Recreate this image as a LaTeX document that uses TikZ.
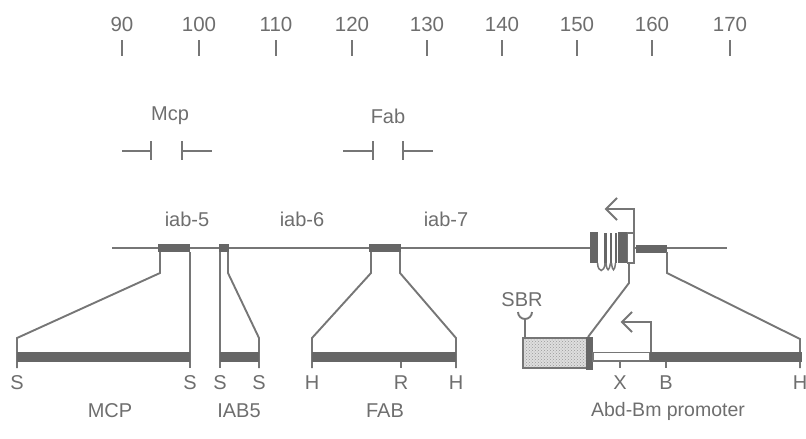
\documentclass[tikz,border=0pt]{standalone}
\usepackage{fontspec}
\setmainfont{Liberation Sans}
\usetikzlibrary{patterns}
\definecolor{ln}{RGB}{118,118,118}
\definecolor{dk}{RGB}{102,102,102}
\definecolor{tx}{RGB}{110,110,110}
\definecolor{stip}{RGB}{222,222,222}
\begin{document}
\begin{tikzpicture}[x=1pt,y=-1pt,line width=1.9pt,color=ln,
  lbl/.style={text=tx,font=\fontsize{20}{20}\selectfont,inner sep=0pt},
  num/.style={text=tx,font=\fontsize{20.5}{20.5}\selectfont,inner sep=0pt},
  bar/.style={fill=dk,draw=none},
  thick line/.style={line width=2.2pt}]
\useasboundingbox (0,0) rectangle (806,439);
% scale
\foreach \v/\x in {90/122,100/199,110/276,120/352,130/427,140/502,150/577,160/652,170/730}{
  \node[num] (n\v) at (\x,24) {\v};
  \draw[line width=1.6pt] (\x,40) -- (\x,56);
}
% brackets
\node[lbl] (mcp) at (170,116) {Mcp};
\draw (122,151) -- (151,151); \draw (151,141) -- (151,160);
\draw (182,141) -- (182,160); \draw (182,151) -- (212,151);
\node[lbl] (fab) at (388,116) {Fab};
\draw (343,151) -- (373,151); \draw (373,141) -- (373,160);
\draw (403,141) -- (403,160); \draw (403,151) -- (433,151);
% region labels
\node[lbl] (i5) at (187,219) {iab-5};
\node[lbl] (i6) at (302,219) {iab-6};
\node[lbl] (i7) at (446,219) {iab-7};
% main line
\draw (112,248) -- (590,248);
\draw (634,248) -- (727,248);
\fill[bar] (158,244) rectangle (190,252);
\fill[bar] (219,244) rectangle (229,252);
\fill[bar] (369,244) rectangle (401,252);
\fill[bar] (636,244.5) rectangle (667,252.5);
% exons
\fill[bar] (590,232) rectangle (598,263);
\fill[bar] (604,233) rectangle (606.5,263);
\fill[bar] (609.5,233) rectangle (612,263);
\fill[bar] (614.5,233) rectangle (617,263);
\fill[bar] (618,232) rectangle (627,263);
\draw[line width=1.5pt,fill=white] (627.5,233) rectangle (634,263);
\draw[line width=1.5pt] (597.5,263) .. controls (598,273) and (604.5,273) .. (605,263)
  (606,263) .. controls (607,272) and (609,272) .. (610.5,263)
  (611.5,263) .. controls (612.5,272) and (614.5,272) .. (615.5,263);
% arrow 1
\draw[line join=miter] (634,236) -- (634,209) -- (606,209);
\draw[line join=miter] (617,198) -- (606,209) -- (617,220);
% MCP
\draw (160,252) -- (160,273) -- (17,338) -- (17,368);
\draw (190,252) -- (190,368);
\fill[bar] (17,352) rectangle (190,362);
% IAB5
\draw (220,252) -- (220,368);
\draw (228,252) -- (228,273) -- (259,338) -- (259,368);
\fill[bar] (220,352) rectangle (259,362);
% FAB
\draw (371,252) -- (371,273) -- (312,338) -- (312,368);
\draw (400,252) -- (400,273) -- (456,338) -- (456,368);
\fill[bar] (312,352) rectangle (456,362);
\draw (401,362) -- (401,368);
% Abd-B construct
\draw (629,263) -- (629,283) -- (588,337);
\draw (667,252) -- (667,273) -- (800,339) -- (800,368);
\fill[stip] (523,338) rectangle (587,368);
\fill[pattern=crosshatch dots,pattern color=gray!80] (523,338) rectangle (587,368);
\draw[thick line] (523,338) rectangle (587,368);
\fill[bar] (586,337) rectangle (593,370);
\draw[line width=1.5pt,fill=white] (593,352.5) rectangle (650,361);
\fill[bar] (650,352) rectangle (802,362);
\draw (620,361) -- (620,368);
\draw (666,362) -- (666,368);
% arrow 2
\draw[line join=miter] (651,352) -- (651,322) -- (622,322);
\draw[line join=miter] (632,312) -- (622,322) -- (632,332);
% SBR
\node[lbl] (sbr) at (522,300) {SBR};
\draw (518,312) arc[start angle=180,end angle=0,radius=7];
\draw (525,319) -- (525,338);
% site labels
\foreach \t/\x/\n in {S/17/a,S/190/b,S/220/c,S/259/d,H/312/e,R/401/f,H/456/g,X/620/h,B/666/i,H/800/j}{
  \node[lbl] (site\n) at (\x,383) {\t};
}
% construct names
\node[lbl] (MCP) at (110,411) {MCP};
\node[lbl] (IAB5) at (239,411) {IAB5};
\node[lbl] (FAB) at (385,411) {FAB};
\node[lbl,font=\fontsize{19.5}{19.5}\selectfont] (abd) at (668,411) {Abd-Bm promoter};
\end{tikzpicture}
\end{document}
